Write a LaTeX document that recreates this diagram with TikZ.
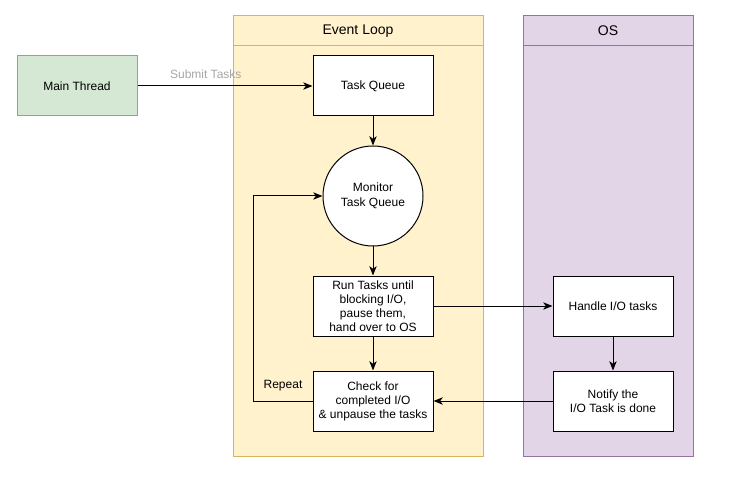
\documentclass[tikz,border=0pt]{standalone}
\usepackage{fontspec}
\setmainfont{Liberation Sans}
\usetikzlibrary{arrows.meta,positioning}
\definecolor{loopfill}{HTML}{FFF2CC}
\definecolor{loopline}{HTML}{D6B656}
\definecolor{osfill}{HTML}{E1D5E7}
\definecolor{osline}{HTML}{9673A6}
\definecolor{mainfill}{HTML}{D5E8D4}
\definecolor{mainline}{HTML}{82B366}
\definecolor{labelgrey}{HTML}{A6A6A6}

\begin{document}
\begin{tikzpicture}[x=0.75pt,y=-0.75pt,line width=0.75pt,
    font=\fontsize{9}{10.5}\selectfont,
    box/.style={draw,fill=white,minimum width=90pt,minimum height=45pt,align=center,inner sep=1pt},
    flow/.style={-{Stealth[length=7pt,width=5.5pt,inset=2pt]}}]
    \useasboundingbox (0,0) rectangle (731,477);

    \draw[loopline,fill=loopfill] (233,16) rectangle (483,456);
    \draw[loopline] (233,46) -- (483,46);
    \node (looptitle) at (358,31) {\fontsize{10.5}{12}\selectfont Event Loop};
    \draw[osline,fill=osfill] (523,16) rectangle (693,456);
    \draw[osline] (523,46) -- (693,46);
    \node (ostitle) at (608,31) {\fontsize{10.5}{12}\selectfont OS};

    \node[box,draw=mainline,fill=mainfill] (main) at (77,86) {Main Thread};
    \node[box] (queue) at (373,86) {Task Queue};
    \node[draw,fill=white,circle,minimum size=75pt,align=center,inner sep=0pt] (monitor) at (373,196) {Monitor\\[1pt]Task Queue};
    \node[box] (run) at (373,306) {Run Tasks until\\blocking I/O,\\pause them,\\hand over to OS};
    \node[box] (check) at (373,401) {Check for\\completed I/O\\\& unpause the tasks};
    \node[box] (handle) at (613,306) {Handle I/O tasks};
    \node[box] (notify) at (613,401) {Notify the\\I/O Task is done};
    \coordinate (corner low) at (253,401);
    \coordinate (corner high) at (253,196);

    \draw[flow] (main) -- node[pos=0.39,above=2pt,text=labelgrey] (submit) {Submit Tasks} (queue);
    \draw[flow] (queue) -- (monitor);
    \draw[flow] (monitor) -- (run);
    \draw[flow] (run) -- (check);
    \draw[flow] (run) -- (handle);
    \draw[flow] (handle) -- (notify);
    \draw[flow] (notify) -- (check);
    \draw[flow] (check.west) -- (corner low) -- (corner high) -- (monitor.west);
    \node (repeat) at (283,386) {Repeat};
\end{tikzpicture}
\end{document}
